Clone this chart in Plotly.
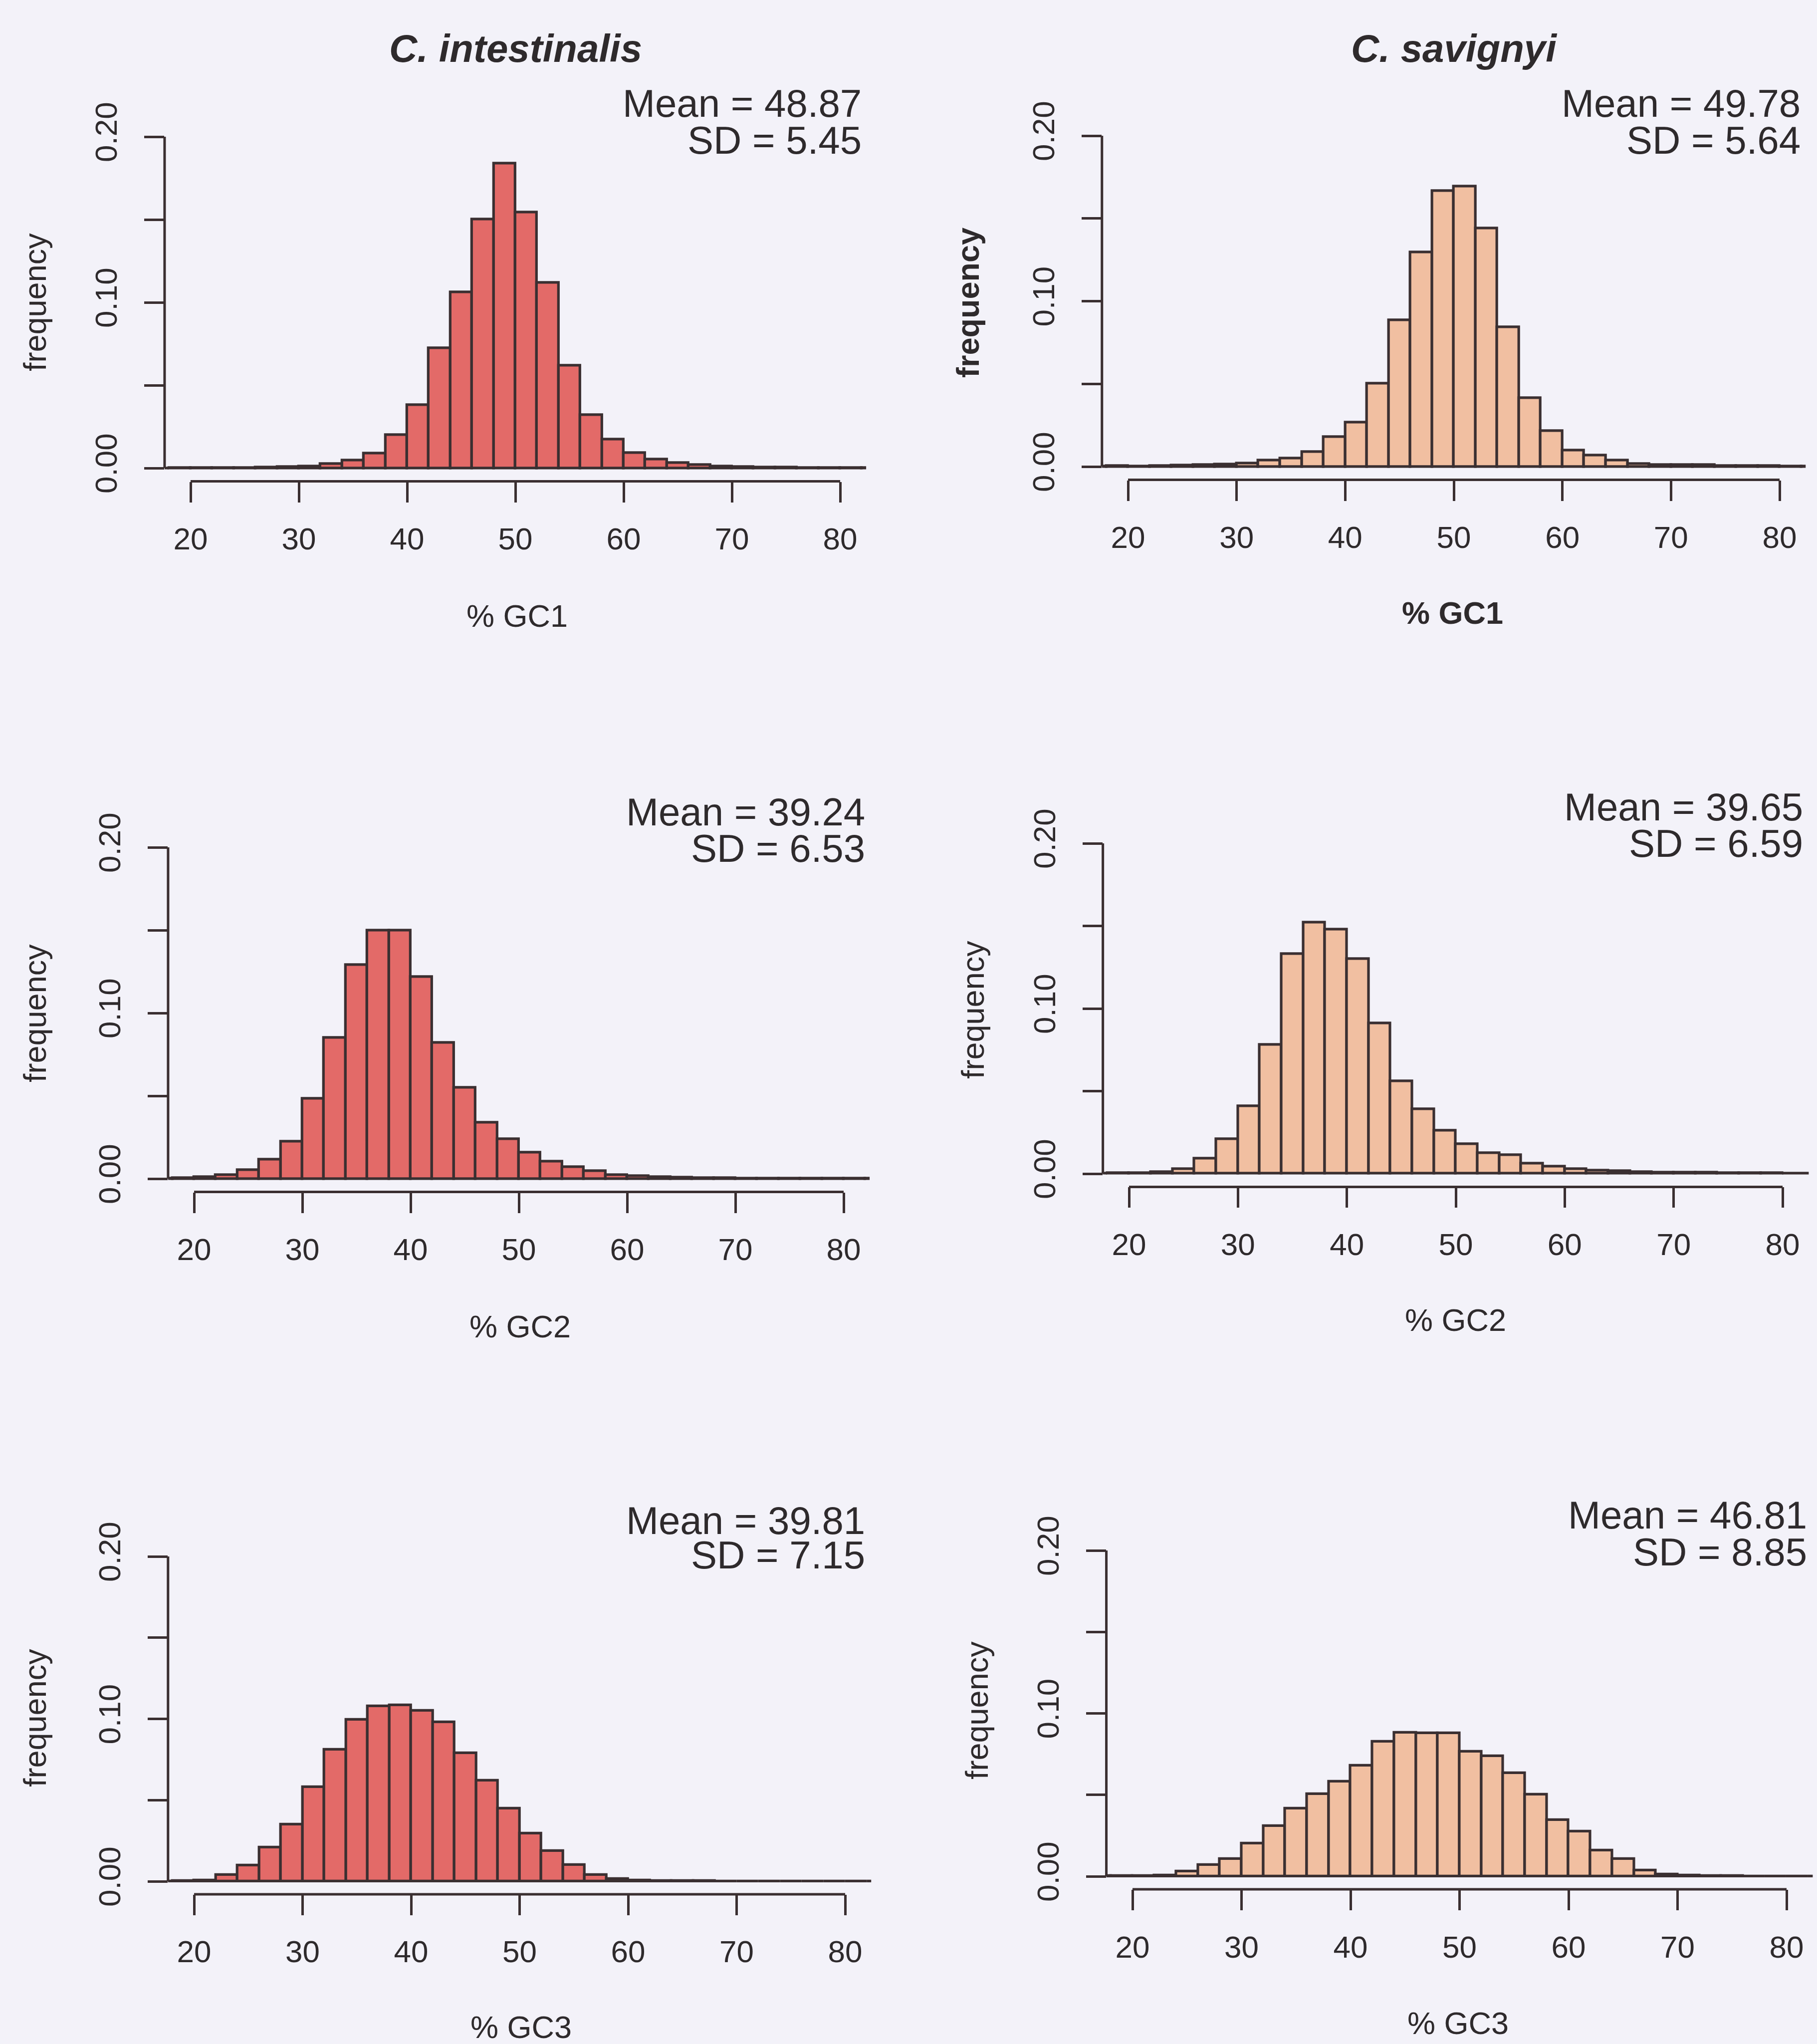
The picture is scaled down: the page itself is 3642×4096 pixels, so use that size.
import plotly.graph_objects as go

W, H = 3642, 4096

# ---------------- data ----------------
bin_centers = [17, 19, 21, 23, 25, 27, 29, 31, 33, 35, 37, 39, 41, 43, 45, 47, 49,
               51, 53, 55, 57, 59, 61, 63, 65, 67, 69, 71, 73, 75, 77, 79, 81, 83]
bin_width = 2

x_tick_vals = [20, 30, 40, 50, 60, 70, 80]
x_tick_text = ["20", "30", "40", "50", "60", "70", "80"]
y_tick_vals = [0.0, 0.05, 0.10, 0.15, 0.20]
y_tick_text = ["0.00", "", "0.10", "", "0.20"]

species = ["C. intestinalis", "C. savignyi"]
xlabels = ["% GC1", "% GC2", "% GC3"]

gc1_intestinalis = [0.0, 0.00005, 0.0001, 0.0001, 0.0002, 0.0004, 0.0007, 0.0012, 0.0025, 0.0047,
                    0.009, 0.020, 0.038, 0.0724, 0.1063, 0.1503, 0.1839, 0.1543, 0.112, 0.062,
                    0.0322, 0.0172, 0.0092, 0.0054, 0.0032, 0.002, 0.0012, 0.0008, 0.0005, 0.0004,
                    0.0003, 0.0002, 0.0001, 0.0001]
gc1_savignyi = [0.0003, 0.0004, 0.0003, 0.0005, 0.0007, 0.001, 0.0015, 0.002, 0.0038, 0.005,
                0.009, 0.018, 0.0268, 0.0503, 0.0884, 0.1297, 0.1668, 0.1693, 0.144, 0.0843,
                0.0415, 0.0215, 0.0098, 0.0068, 0.0038, 0.0018, 0.0012, 0.0012, 0.0012, 0.0006,
                0.0005, 0.0004, 0.0003, 0.0002]
gc2_intestinalis = [0.0002, 0.0005, 0.001, 0.0024, 0.0053, 0.0116, 0.0225, 0.0485, 0.085, 0.129,
                    0.150, 0.150, 0.122, 0.082, 0.055, 0.034, 0.024, 0.0158, 0.0104, 0.007,
                    0.0046, 0.0022, 0.0018, 0.001, 0.0008, 0.0006, 0.0004, 0.0003, 0.0002, 0.0002,
                    0.0001, 0.0001, 0.0001, 0.0001]
gc2_savignyi = [0.0001, 0.0003, 0.0005, 0.0012, 0.003, 0.0092, 0.021, 0.041, 0.078, 0.133,
                0.152, 0.148, 0.130, 0.091, 0.056, 0.039, 0.026, 0.018, 0.0126, 0.0112,
                0.0063, 0.0044, 0.003, 0.002, 0.0017, 0.001, 0.0008, 0.0008, 0.0006, 0.0004,
                0.0003, 0.0003, 0.0002, 0.0002]
gc3_intestinalis = [0.0001, 0.0002, 0.0005, 0.004, 0.0097, 0.021, 0.035, 0.058, 0.081, 0.0995,
                    0.108, 0.1085, 0.105, 0.098, 0.079, 0.062, 0.045, 0.0295, 0.0188, 0.0102,
                    0.004, 0.0014, 0.0007, 0.0003, 0.0002, 0.0002, 0.0001, 0.0001, 0.0001, 0.0001,
                    0.0001, 0.0001, 0.0001, 0.0001]
gc3_savignyi = [0.0002, 0.0003, 0.0004, 0.0007, 0.003, 0.0071, 0.0107, 0.0204, 0.031, 0.0418,
                0.0506, 0.0582, 0.068, 0.0827, 0.0882, 0.088, 0.088, 0.0766, 0.0737, 0.0634,
                0.0503, 0.0347, 0.0275, 0.016, 0.0107, 0.0036, 0.0014, 0.0008, 0.0004, 0.0002,
                0.0001, 0.0001, 0.0001, 0.0001]

mean_values = [48.87, 49.78, 39.24, 39.65, 39.81, 46.81]
sd_values = [5.45, 5.64, 6.53, 6.59, 7.15, 8.85]

# ---------------- styling ----------------
FONT = "Liberation Sans, Arial, Helvetica, sans-serif"
TXT = "#2e2a2c"
OUTLINE = "#3a2f31"
BG = "#f3f2f9"
COL_INT = "#e36a68"
COL_SAV = "#f1bfa1"
LW = 5.2
AXW = 5.0
TICK_FS = 62
LAB_FS = 63
STAT_FS = 78
TITLE_FS = 78

# panel geometry in output pixels: x20, x80, y0 (value 0), y02 (value 0.2)
geom = [
    (382, 1684, 938, 274),
    (2261, 3567, 935, 272),
    (389, 1691, 2362, 1698),
    (2263, 3573, 2352, 1690),
    (389, 1694, 3770, 3119),
    (2270, 3581, 3760, 3107),
]
stat_pos = [(1729, 207, 281), (3611, 207, 281), (1736, 1627, 1700),
            (3616, 1617, 1690), (1736, 3047, 3116), (3624, 3036, 3110)]
xlab_pos = [(1036, 1234), (2911, 1228), (1042, 2658), (2917, 2645), (1044, 4062), (2922, 4054)]
ylab_pos = [(70, 606), (1940, 606), (70, 2031), (1950, 2023), (70, 3443), (1958, 3428)]
title_pos = [(1033, 97), (2914, 97)]
bold_labels = [False, True, False, False, False, False]

panel_values = [gc1_intestinalis, gc1_savignyi, gc2_intestinalis,
                gc2_savignyi, gc3_intestinalis, gc3_savignyi]
panel_colors = [COL_INT, COL_SAV, COL_INT, COL_SAV, COL_INT, COL_SAV]
panel_xlabels = [xlabels[0], xlabels[0], xlabels[1], xlabels[1], xlabels[2], xlabels[2]]

XR = [17.6, 82.4]
YR = [-0.008, 0.208]

fig = go.Figure()
layout = dict(
    width=W, height=H, margin=dict(l=0, r=0, t=0, b=0, pad=0, autoexpand=False),
    paper_bgcolor=BG, plot_bgcolor="rgba(0,0,0,0)",
    showlegend=False, font=dict(family=FONT, color=TXT),
    bargap=0,
)
annotations = []
shapes = []


def px(x):
    return x / W


def py(y):
    return 1 - y / H


for i in range(6):
    n = i + 1
    xs = "x" if n == 1 else f"x{n}"
    ys = "y" if n == 1 else f"y{n}"
    x20, x80, y0, y02 = geom[i]
    ppx = (x80 - x20) / 60.0
    ppy = (y0 - y02) / 0.2
    left = x20 - (20 - XR[0]) * ppx
    right = x80 + (XR[1] - 80) * ppx
    bottom = y0 + (0 - YR[0]) * ppy
    top = y02 - (YR[1] - 0.2) * ppy

    fig.add_trace(go.Bar(
        x=bin_centers, y=panel_values[i], width=bin_width,
        marker=dict(color=panel_colors[i], line=dict(color=OUTLINE, width=LW)),
        xaxis=xs, yaxis=ys, hoverinfo="x+y",
    ))

    layout["xaxis" if n == 1 else f"xaxis{n}"] = dict(
        domain=[px(left), px(right)], range=XR, anchor=ys, automargin=False,
        showgrid=False, zeroline=False, showline=False,
        tickmode="array", tickvals=x_tick_vals, ticktext=x_tick_text,
        ticks="outside", ticklen=41, tickwidth=AXW, tickcolor=OUTLINE,
        tickfont=dict(size=TICK_FS, color=TXT, family=FONT),
        ticklabelstandoff=20, fixedrange=True,
    )
    layout["yaxis" if n == 1 else f"yaxis{n}"] = dict(
        domain=[py(bottom), py(top)], range=YR, anchor=xs, automargin=False,
        showgrid=False, zeroline=False, showline=False,
        tickmode="array", tickvals=y_tick_vals, ticktext=y_tick_text,
        ticks="outside", ticklen=40, tickwidth=AXW, tickcolor=OUTLINE,
        tickangle=-90, tickfont=dict(size=TICK_FS, color=TXT, family=FONT),
        ticklabelstandoff=30, fixedrange=True,
    )
    # axis lines (R style: span only the labelled range)
    shapes.append(dict(type="line", xref=xs, yref="paper", x0=20, x1=80,
                       y0=py(bottom), y1=py(bottom),
                       line=dict(color=OUTLINE, width=AXW)))
    shapes.append(dict(type="line", xref="paper", yref=ys, x0=px(left), x1=px(left),
                       y0=0, y1=0.2, line=dict(color=OUTLINE, width=AXW)))

    # mean / sd text
    rx, my, sy = stat_pos[i]
    annotations.append(dict(text=f"Mean = {mean_values[i]:.2f}", xref="paper", yref="paper",
                            x=px(rx), y=py(my), xanchor="right", yanchor="middle",
                            height=72, valign="middle",
                            showarrow=False, font=dict(size=STAT_FS, color=TXT, family=FONT)))
    annotations.append(dict(text=f"SD = {sd_values[i]:.2f}", xref="paper", yref="paper",
                            x=px(rx), y=py(sy), xanchor="right", yanchor="middle",
                            height=72, valign="middle",
                            showarrow=False, font=dict(size=STAT_FS, color=TXT, family=FONT)))
    # x label
    lx, ly = xlab_pos[i]
    xt = panel_xlabels[i]
    if bold_labels[i]:
        xt = f"<b>{xt}</b>"
    annotations.append(dict(text=xt, xref="paper", yref="paper", x=px(lx), y=py(ly),
                            xanchor="center", yanchor="middle", showarrow=False,
                            font=dict(size=LAB_FS, color=TXT, family=FONT)))
    # y label
    fx, fy = ylab_pos[i]
    ft = "frequency"
    if bold_labels[i]:
        ft = "<b>frequency</b>"
    annotations.append(dict(text=ft, xref="paper", yref="paper", x=px(fx), y=py(fy),
                            xanchor="center", yanchor="middle", textangle=-90, showarrow=False,
                            font=dict(size=LAB_FS, color=TXT, family=FONT)))

for j, name in enumerate(species):
    tx, ty = title_pos[j]
    annotations.append(dict(text=f"<b><i>{name}</i></b>", xref="paper", yref="paper",
                            x=px(tx), y=py(ty), xanchor="center", yanchor="middle",
                            showarrow=False, font=dict(size=TITLE_FS, color=TXT, family=FONT)))

layout["annotations"] = annotations
layout["shapes"] = shapes
fig.update_layout(**layout)
fig.write_html("out.html")
